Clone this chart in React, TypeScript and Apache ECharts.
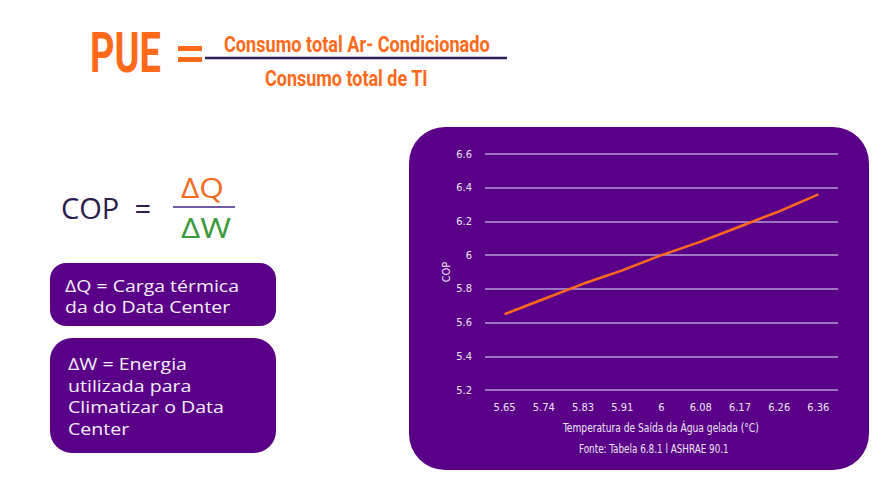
import React, { useEffect, useRef } from "react";
import * as echarts from "echarts";

const categories = ["5.65", "5.74", "5.83", "5.91", "6", "6.08", "6.17", "6.26", "6.36"];
const copValues = [5.65, 5.74, 5.83, 5.91, 6.0, 6.08, 6.17, 6.26, 6.36];
const yMin = 5.2;
const yMax = 6.6;
const yStep = 0.2;
const xAxisName = "Temperatura de Saída da Água gelada (°C)";
const yAxisName = "COP";
const sourceText = "Fonte: Tabela 6.8.1 l ASHRAE 90.1";
const pueNumerator = "Consumo total Ar- Condicionado";
const pueDenominator = "Consumo total de TI";
const box1Lines = ["ΔQ = Carga térmica", "da do Data Center"];
const box2Lines = ["ΔW = Energia", "utilizada para", "Climatizar o Data", "Center"];

const ORANGE = "#ff6a1a";
const PURPLE = "#5a0088";
const LIGHT = "#ece6f4";
const NARROW = "'DejaVu Sans Condensed', 'Liberation Sans Narrow', sans-serif";

function fit(text: string, font: string, target: number): number {
  const c = document.createElement("canvas");
  const ctx = c.getContext("2d");
  if (!ctx) return 1;
  ctx.font = font;
  const w = ctx.measureText(text).width;
  return w > 0 ? target / w : 1;
}

function txt(text: string, x: number, y: number, opts: any) {
  const { fontSize, fontFamily, fontWeight = "normal", fill, align = "left", width, scale } = opts;
  const font = `${fontWeight} ${fontSize}px ${fontFamily}`;
  const sx = scale ? scale : width ? fit(text, font, width) : 1;
  return {
    type: "text",
    x,
    y,
    scaleX: sx,
    z: 10,
    style: {
      text,
      x: 0,
      y: 0,
      fill,
      fontSize,
      fontFamily,
      fontWeight,
      align,
      textAlign: align,
      verticalAlign: "middle",
      textVerticalAlign: "middle",
    },
  };
}

export default function App() {
  const ref = useRef<HTMLDivElement>(null);
  useEffect(() => {
    if (!ref.current) return;
    const chart = echarts.init(ref.current, null, { renderer: "svg" });
    const boxFont = "'Open Sans', sans-serif";
    const s1 = fit(box1Lines[0], `normal 17px ${boxFont}`, 174);
    const s2 = fit(box2Lines[0], `normal 17px ${boxFont}`, 119);
    const graphics: any[] = [
      // chart card
      { type: "rect", z: -10, shape: { x: 409, y: 127, width: 460, height: 343, r: 36 }, style: { fill: PURPLE } },
      // PUE formula
      txt("PUE", 90, 53, { fontSize: 56, fontFamily: "Roboto", fontWeight: "bold", fill: ORANGE, width: 71 }),
      { type: "rect", z: 10, shape: { x: 178, y: 46, width: 24, height: 5 }, style: { fill: ORANGE } },
      { type: "rect", z: 10, shape: { x: 178, y: 57, width: 24, height: 5 }, style: { fill: ORANGE } },
      { type: "line", z: 10, shape: { x1: 205, y1: 58, x2: 507, y2: 58 }, style: { stroke: "#2e1f5a", lineWidth: 2.5 } },
      txt(pueNumerator, 224, 44, { fontSize: 22, fontFamily: "Roboto", fontWeight: "bold", fill: ORANGE, width: 266 }),
      txt(pueDenominator, 265, 78, { fontSize: 22, fontFamily: "Roboto", fontWeight: "bold", fill: ORANGE, width: 163 }),
      // COP formula
      txt("COP  =", 61, 207, { fontSize: 30, fontFamily: boxFont, fill: "#2b1d4d", width: 90 }),
      txt("ΔQ", 181, 188, { fontSize: 27, fontFamily: boxFont, fill: "#f26b1f", width: 43 }),
      { type: "line", z: 10, shape: { x1: 173, y1: 207, x2: 235, y2: 207 }, style: { stroke: "#6f5aa3", lineWidth: 2 } },
      txt("ΔW", 181, 228, { fontSize: 27, fontFamily: boxFont, fill: "#3c9a3c", width: 50 }),
      // boxes
      { type: "rect", z: 5, shape: { x: 50, y: 263, width: 226, height: 63, r: 16 }, style: { fill: PURPLE } },
      { type: "rect", z: 5, shape: { x: 50, y: 338, width: 226, height: 115, r: 22 }, style: { fill: PURPLE } },
      ...box1Lines.map((l, i) => txt(l, 65, 285 + i * 21.5, { fontSize: 17, fontFamily: boxFont, fill: "#f4f0fa", scale: s1 })),
      ...box2Lines.map((l, i) => txt(l, 68, 363 + i * 21.7, { fontSize: 17, fontFamily: boxFont, fill: "#f4f0fa", scale: s2 })),
      // axis title and source line
      txt(xAxisName, 563, 428, { fontSize: 13, fontFamily: NARROW, fill: LIGHT, width: 196 }),
      txt(sourceText, 579, 448, { fontSize: 13, fontFamily: NARROW, fill: LIGHT, width: 150 }),
    ];

    chart.setOption({
      animation: false,
      backgroundColor: "#ffffff",
      grid: { left: 485, right: 42, top: 154, bottom: 87, containLabel: false },
      xAxis: {
        type: "category",
        data: categories,
        boundaryGap: true,
        axisLine: { show: false },
        axisTick: { show: false },
        axisLabel: { color: LIGHT, fontSize: 11, fontFamily: NARROW, margin: 12 },
        splitLine: { show: false },
      },
      yAxis: {
        type: "value",
        min: yMin,
        max: yMax,
        interval: yStep,
        name: yAxisName,
        nameLocation: "middle",
        nameGap: 31,
        nameTextStyle: { color: LIGHT, fontSize: 11, fontFamily: NARROW },
        axisLine: { show: false },
        axisTick: { show: false },
        axisLabel: { color: LIGHT, fontSize: 11, fontFamily: NARROW, margin: 13 },
        splitLine: { show: true, lineStyle: { color: "#b49bd6", width: 1.5 } },
      },
      series: [
        {
          type: "line",
          data: copValues,
          showSymbol: false,
          symbol: "none",
          lineStyle: { color: ORANGE, width: 2.5 },
          z: 5,
        },
      ],
      graphic: { elements: graphics },
    });
    return () => chart.dispose();
  }, []);
  return <div ref={ref} style={{ position: "fixed", left: 0, top: 0, width: 880, height: 477 }} />;
}
